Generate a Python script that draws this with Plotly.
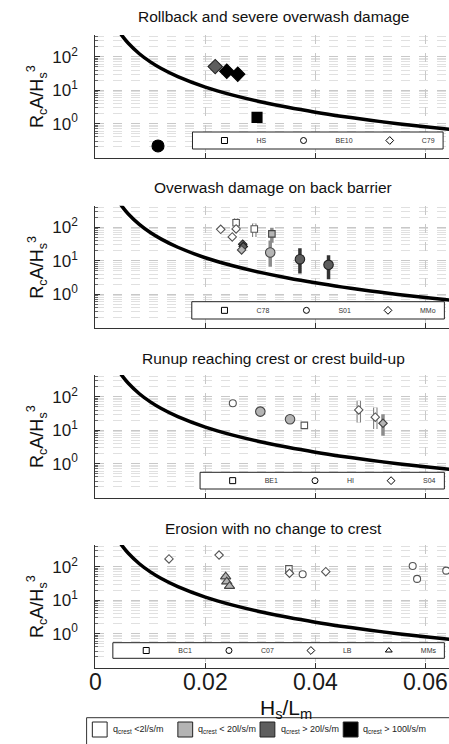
import plotly.graph_objects as go

FIG_W, FIG_H = 449, 744
FONT = "Liberation Sans, Arial, sans-serif"

# ---------------- data ----------------
# threshold curve
curve_x = [0.0045, 0.005, 0.006, 0.008, 0.010, 0.012, 0.015, 0.020, 0.025,
           0.030, 0.035, 0.040, 0.045, 0.050, 0.055, 0.060, 0.065]
curve_y = [519, 398, 252, 123, 70.4, 44.6, 25.5, 12.4, 7.13,
           4.52, 3.07, 2.2, 1.64, 1.26, 0.99, 0.80, 0.66]

panel_titles = ["Rollback and severe overwash damage",
                "Overwash damage on back barrier",
                "Runup reaching crest or crest build-up",
                "Erosion with no change to crest"]

legend_names = [["HS", "BE10", "C79"],
                ["C78", "S01", "MMo"],
                ["BE1", "HI", "S04"],
                ["BC1", "C07", "LB", "MMs"]]
legend_symbols = [["square", "circle", "diamond"],
                  ["square", "circle", "diamond"],
                  ["square", "circle", "diamond"],
                  ["square", "circle", "diamond", "triangle-up"]]

class_labels = ["q<sub>crest</sub> &lt;2l/s/m",
                "q<sub>crest</sub> &lt; 20l/s/m",
                "q<sub>crest</sub> &gt; 20l/s/m",
                "q<sub>crest</sub> &gt; 100l/s/m"]

x_tick_vals = [0, 0.02, 0.04, 0.06]
x_tick_text = ["0", "0.02", "0.04", "0.06"]
y_tick_vals = [0.1, 1, 10, 100]
y_tick_text = ["", "10<sup>0</sup>", "10<sup>1</sup>", "10<sup>2</sup>"]

# Panel 1
p1_x = [0.0218, 0.0239, 0.0259, 0.0294, 0.0114]
p1_y = [50.6, 36.8, 30.0, 1.54, 0.214]
p1_symbol = ["diamond", "diamond", "diamond", "square", "circle"]
p1_class = [2, 3, 3, 3, 3]
p1_hi = [None, None, None, None, None]
p1_lo = [None, None, None, None, None]

# Panel 2
p2_x = [0.0228, 0.0256, 0.0256, 0.0249, 0.0289, 0.0268, 0.0269, 0.0266,
        0.0321, 0.0318, 0.0372, 0.0424]
p2_y = [88, 138, 90, 52, 90, 31.5, 26.7, 21.3, 64, 17.7, 11.2, 7.6]
p2_symbol = ["diamond", "square", "diamond", "diamond", "square", "diamond",
             "diamond", "diamond", "square", "circle", "circle", "circle"]
p2_class = [0, 0, 0, 0, 0, 2, 2, 1, 1, 1, 2, 2]
p2_hi = [None, 188, None, None, 132, None, None, None, 98, 41, 23.7, 14.8]
p2_lo = [None, 116, None, None, 52, None, None, None, 35, 6.7, 4.2, 2.8]

# Panel 3
p3_x = [0.0250, 0.0300, 0.0354, 0.0380, 0.0479, 0.0509, 0.0523]
p3_y = [63.8, 35.9, 21.2, 13.9, 40.3, 24.4, 16.1]
p3_symbol = ["circle", "circle", "circle", "square", "diamond", "diamond", "diamond"]
p3_class = [0, 1, 1, 0, 0, 0, 1]
p3_hi = [None, None, None, None, 76, 48, 30]
p3_lo = [50, 29, 17, None, 17, 10.8, 6.8]

# Panel 4
p4_x = [0.0134, 0.0225, 0.0237, 0.0239, 0.0244, 0.0352, 0.0353, 0.0377,
        0.0419, 0.0577, 0.0585, 0.0638]
p4_y = [171, 224, 50.6, 35.8, 26.3, 86, 63.8, 59.6, 71.3, 105, 43.2, 76.4]
p4_symbol = ["diamond", "diamond", "triangle-up", "triangle-up", "triangle-up",
             "square", "diamond", "circle", "diamond", "circle", "circle", "circle"]
p4_class = [0, 0, 1, 1, 1, 0, 0, 0, 0, 0, 0, 0]
p4_hi = [None] * 12
p4_lo = [None] * 12

panels = [
    (p1_x, p1_y, p1_symbol, p1_class, p1_hi, p1_lo),
    (p2_x, p2_y, p2_symbol, p2_class, p2_hi, p2_lo),
    (p3_x, p3_y, p3_symbol, p3_class, p3_hi, p3_lo),
    (p4_x, p4_y, p4_symbol, p4_class, p4_hi, p4_lo),
]

# ---------------- styles / layout geometry (pixels) ----------------
CLASS_FILL = ["white", "#b4b4b4", "#5e5e5e", "black"]
CLASS_LINE = ["#555555", "#444444", "#222222", "black"]
BAR_COLOR = ["#808080", "#8c8c8c", "#333333", "black"]

SIZE_BIG = {"diamond": 11, "square": 10, "circle": 12, "triangle-up": 11}
SIZE_SMALL = {"diamond": 6.5, "square": 6.5, "circle": 9.5, "triangle-up": 9}
SIZE_SMALL_WHITE_CIRCLE = 7

panel_tops = [35, 205.7, 375, 545]
panel_h = 122.7
plot_left = 90.5
x_range = [0, 0.0643]
y_range = [-1.02, 2.65]
title_y = [17, 187.5, 358, 528]
legend_box = [(189, 132, 443, 149), (188.3, 301.7, 444.3, 319),
              (196.7, 472.3, 444.3, 489), (108.3, 642.7, 444.3, 658.3)]
legend_first_sym = [225, 225, 233.3, 145.7]
LEG_ITEMWIDTH = 54
LEG_CENTER = (LEG_ITEMWIDTH + 10) / 2 + 4

bottom_box = (81.7, 717.7, 455, 750)
bottom_sq_x = [95, 181.7, 265, 349.3]
bottom_txt_x = [106.5, 193, 276.5, 360]
bottom_y = 729.5


def px(x):
    return x / FIG_W


def py(y):
    return 1 - y / FIG_H


minor_vals = [k * 10.0 ** e for e in range(-2, 3) for k in range(2, 10)]

fig = go.Figure()
layout = dict(width=FIG_W, height=FIG_H, autosize=False,
              margin=dict(l=0, r=0, t=0, b=0, pad=0),
              paper_bgcolor="white", plot_bgcolor="white",
              font=dict(family=FONT, color="#1a1a1a"),
              showlegend=True, shapes=[], annotations=[])

for i in range(4):
    n = "" if i == 0 else str(i + 1)
    xa, ya = "x" + n, "y" + n
    top = panel_tops[i]
    bot = top + panel_h
    layout["xaxis" + n] = dict(
        domain=[px(plot_left), 1], anchor=ya, range=x_range,
        tickmode="array", tickvals=x_tick_vals, ticktext=x_tick_text,
        showgrid=True, gridcolor="#c8c8c8", griddash="dash", gridwidth=1,
        showline=True, linecolor="#333333", linewidth=1,
        ticks="inside", ticklen=5, tickcolor="#333333",
        showticklabels=(i == 3), tickfont=dict(size=23, color="#1a1a1a"),
        ticklabelstandoff=-6, zeroline=False, fixedrange=True)
    layout["yaxis" + n] = dict(
        domain=[py(bot), py(top)], anchor=xa, type="log", range=y_range,
        tickmode="array", tickvals=y_tick_vals, ticktext=y_tick_text,
        showgrid=True, gridcolor="#c8c8c8", griddash="dash", gridwidth=1,
        showline=True, linecolor="#333333", linewidth=1,
        ticks="inside", ticklen=5, tickcolor="#333333",
        tickfont=dict(size=17, color="#1a1a1a"), ticklabelstandoff=13,
        zeroline=False, fixedrange=True,
        minor=dict(tickmode="array", tickvals=minor_vals, showgrid=True,
                   gridcolor="#e0e0e0", griddash="dash", gridwidth=1,
                   ticks="inside", ticklen=3, tickcolor="#666666"))

    # curve
    fig.add_trace(go.Scatter(x=curve_x, y=curve_y, mode="lines",
                             line=dict(color="black", width=3.5, shape="spline"),
                             showlegend=False, hoverinfo="skip",
                             xaxis=xa, yaxis=ya))

    xs, ys, syms, clss, his, los = panels[i]
    # error bars (drawn first)
    for x, y, c, hi, lo in zip(xs, ys, clss, his, los):
        if hi is None and lo is None:
            continue
        plus = [(hi - y) if hi is not None else 0]
        minus = [(y - lo) if lo is not None else 0]
        if c == 0:
            layers = [(BAR_COLOR[0], 4.5), ("white", 2.3)]
        else:
            layers = [(BAR_COLOR[c], 3.5)]
        for col, th in layers:
            fig.add_trace(go.Scatter(
                x=[x], y=[y], mode="lines", showlegend=False, hoverinfo="skip",
                error_y=dict(type="data", symmetric=False, array=plus,
                             arrayminus=minus, color=col, thickness=th, width=0),
                xaxis=xa, yaxis=ya))
    # markers
    for x, y, s, c in zip(xs, ys, syms, clss):
        if i == 0:
            size = SIZE_BIG[s]
        elif s == "circle" and c == 0:
            size = SIZE_SMALL_WHITE_CIRCLE
        else:
            size = SIZE_SMALL[s]
        fig.add_trace(go.Scatter(
            x=[x], y=[y], mode="markers", showlegend=False,
            marker=dict(symbol=s, size=size, color=CLASS_FILL[c],
                        line=dict(color=CLASS_LINE[c], width=1.1)),
            xaxis=xa, yaxis=ya))

    # panel legend (box drawn as shape, entries from plotly legend)
    lg = "legend" if i == 0 else "legend" + str(i + 1)
    bx0, by0, bx1, by1 = legend_box[i]
    layout["shapes"].append(dict(type="rect", xref="paper", yref="paper",
                                 x0=px(bx0), x1=px(bx1), y0=py(by1), y1=py(by0),
                                 fillcolor="white", line=dict(color="#222222", width=1),
                                 layer="above"))
    for name, sym in zip(legend_names[i], legend_symbols[i]):
        fig.add_trace(go.Scatter(
            x=[None], y=[None], mode="markers", name=name, legend=lg,
            marker=dict(symbol=sym + "-open", size=6, color="black",
                        line=dict(width=1, color="black")),
            xaxis=xa, yaxis=ya))
    layout[lg] = dict(
        x=px(legend_first_sym[i] - LEG_CENTER), y=py((by0 + by1) / 2 - 14.5),
        xanchor="left", yanchor="top", orientation="h",
        bgcolor="rgba(0,0,0,0)", borderwidth=0, itemwidth=LEG_ITEMWIDTH,
        font=dict(size=7, family=FONT, color="#333333"),
        itemclick=False, itemdoubleclick=False)

    # panel title
    layout["annotations"].append(dict(
        text=panel_titles[i], xref="paper", yref="paper", x=px(271), y=py(title_y[i]),
        xanchor="center", yanchor="middle", showarrow=False,
        font=dict(size=15.5, family=FONT, color="#111111")))
    # y-axis title
    layout["annotations"].append(dict(
        text="R<sub>c</sub>A/H<sub>s</sub><sup>3</sup>", xref="paper", yref="paper",
        x=px(31), y=py(top + panel_h / 2), textangle=-90,
        xanchor="center", yanchor="middle", showarrow=False,
        font=dict(size=18, family=FONT, color="#111111")))

# x-axis title
layout["annotations"].append(dict(
    text="H<sub>s</sub>/L<sub>m</sub>", xref="paper", yref="paper",
    x=px(284), y=py(709), xanchor="center", yanchor="middle", showarrow=False,
    font=dict(size=21, family=FONT, color="#111111")))

# bottom class legend
bx0, by0, bx1, by1 = bottom_box
layout["shapes"].append(dict(type="rect", xref="paper", yref="paper",
                             x0=px(bx0), x1=px(bx1), y0=py(by1), y1=py(by0),
                             fillcolor="white", line=dict(color="#333333", width=1),
                             layer="above"))
for k in range(4):
    cx = bottom_sq_x[k]
    layout["shapes"].append(dict(type="rect", xref="paper", yref="paper",
                                 x0=px(cx - 7.5), x1=px(cx + 7.5),
                                 y0=py(bottom_y + 7.5), y1=py(bottom_y - 7.5),
                                 fillcolor=CLASS_FILL[k],
                                 line=dict(color="#222222", width=1), layer="above"))
    layout["annotations"].append(dict(
        text=class_labels[k], xref="paper", yref="paper",
        x=px(bottom_txt_x[k]), y=py(bottom_y), xanchor="left", yanchor="middle",
        showarrow=False, font=dict(size=9, family=FONT, color="#222222")))

fig.update_layout(**layout)
fig.write_html("out.html", config={"displayModeBar": False})
